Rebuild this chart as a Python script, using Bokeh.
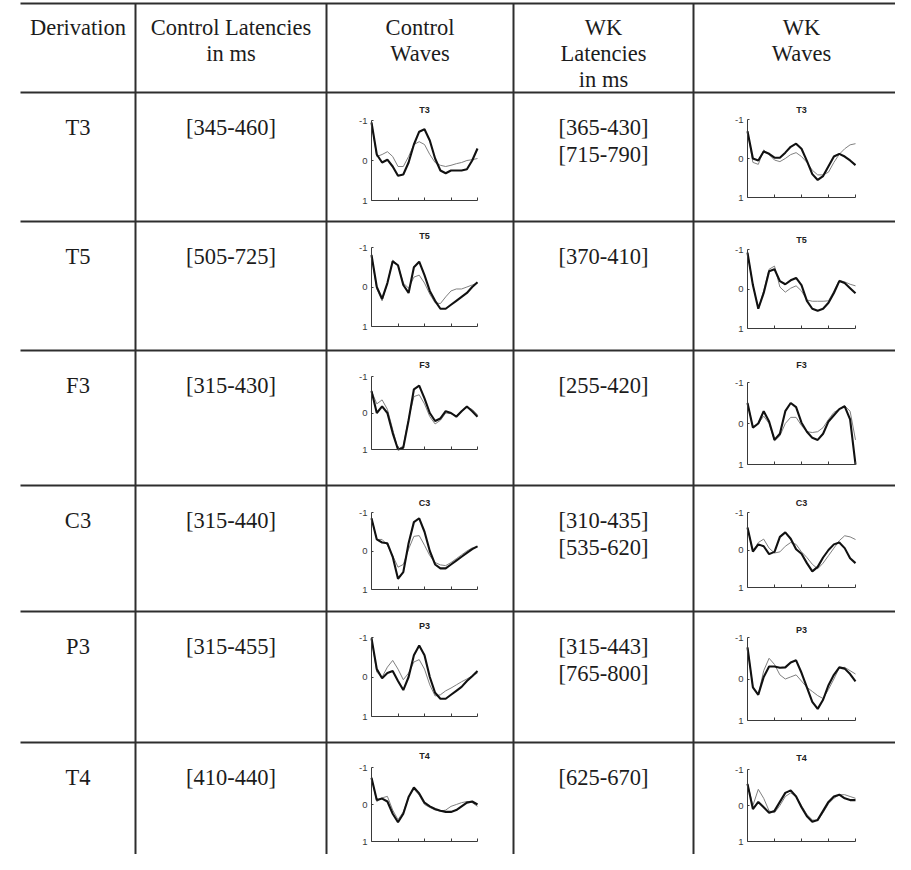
from bokeh.plotting import figure
from bokeh.models import Range1d, FixedTicker, LinearAxis
from bokeh.core.properties import value
from bokeh.embed import file_html
from bokeh.resources import INLINE

# ---------------- data ----------------
header_lines = [["Derivation"], ["Control Latencies", "in ms"], ["Control", "Waves"],
                ["WK", "Latencies", "in ms"], ["WK", "Waves"]]
derivations = ["T3", "T5", "F3", "C3", "P3", "T4"]
control_latencies = ["[345-460]", "[505-725]", "[315-430]", "[315-440]", "[315-455]", "[410-440]"]
wk_latencies = [["[365-430]", "[715-790]"], ["[370-410]"], ["[255-420]"],
                ["[310-435]", "[535-620]"], ["[315-443]", "[765-800]"], ["[625-670]"]]

time_ms = [0, 50, 100, 150, 200, 250, 300, 350, 400, 450, 500, 550, 600, 650, 700, 750, 800, 850, 900, 950, 1000]
x_minor_ticks = [250, 500, 750, 1000]
y_ticks = [-1, 0, 1]
y_tick_labels = {-1: "-1", 0: "0", 1: "1"}

ctl_t3_thick = [-0.95, -0.15, 0.05, -0.02, 0.15, 0.38, 0.35, 0.05, -0.4, -0.72, -0.78, -0.5, -0.05, 0.25, 0.32, 0.25, 0.25, 0.25, 0.22, 0.0, -0.3]
ctl_t3_thin = [-0.95, -0.1, -0.15, -0.22, -0.1, 0.15, 0.15, -0.1, -0.4, -0.47, -0.4, -0.15, 0.05, 0.12, 0.15, 0.12, 0.08, 0.05, 0.0, -0.02, -0.05]
wk_t3_thick = [-0.7, 0.0, 0.05, -0.18, -0.12, -0.02, -0.02, -0.15, -0.3, -0.38, -0.25, 0.06, 0.4, 0.55, 0.45, 0.2, -0.05, -0.12, -0.05, 0.05, 0.17]
wk_t3_thin = [-0.7, 0.1, 0.15, -0.22, -0.1, 0.04, 0.08, 0.0, -0.1, -0.15, -0.05, 0.1, 0.3, 0.42, 0.42, 0.35, 0.1, -0.11, -0.25, -0.35, -0.38]

ctl_t5_thick = [-0.81, 0.0, 0.3, -0.1, -0.65, -0.55, -0.05, 0.15, -0.5, -0.64, -0.3, 0.1, 0.35, 0.55, 0.55, 0.45, 0.35, 0.25, 0.15, 0.0, -0.12]
ctl_t5_thin = [-0.81, 0.05, 0.35, -0.1, -0.68, -0.55, -0.1, 0.03, -0.25, -0.3, -0.1, 0.18, 0.4, 0.42, 0.25, 0.1, 0.05, 0.05, 0.0, -0.05, -0.1]
wk_t5_thick = [-0.92, -0.1, 0.5, 0.1, -0.45, -0.5, -0.2, -0.12, -0.22, -0.28, -0.1, 0.3, 0.5, 0.55, 0.5, 0.35, 0.1, -0.2, -0.15, -0.02, 0.11]
wk_t5_thin = [-0.92, -0.1, 0.5, 0.05, -0.5, -0.58, -0.05, 0.08, -0.02, -0.08, 0.05, 0.28, 0.31, 0.31, 0.31, 0.3, 0.05, -0.22, -0.18, -0.12, -0.08]

ctl_f3_thick = [-0.6, 0.0, -0.18, 0.0, 0.55, 1.0, 0.95, 0.2, -0.65, -0.75, -0.4, 0.0, 0.22, 0.15, -0.05, 0.0, 0.1, -0.05, -0.18, -0.05, 0.1]
ctl_f3_thin = [-0.6, -0.25, -0.36, -0.1, 0.45, 1.0, 0.9, 0.15, -0.45, -0.5, -0.25, 0.1, 0.3, 0.2, 0.0, 0.02, 0.08, -0.05, -0.15, -0.1, 0.05]
wk_f3_thick = [-0.5, 0.1, 0.0, -0.3, -0.05, 0.4, 0.25, -0.3, -0.5, -0.4, -0.02, 0.2, 0.35, 0.4, 0.25, -0.05, -0.2, -0.35, -0.42, -0.1, 1.0]
wk_f3_thin = [-0.5, 0.1, 0.0, -0.18, 0.0, 0.42, 0.3, 0.0, -0.15, -0.15, 0.05, 0.2, 0.22, 0.2, 0.1, -0.1, -0.27, -0.35, -0.43, -0.3, 0.4]

ctl_c3_thick = [-0.85, -0.3, -0.22, -0.2, 0.15, 0.72, 0.55, -0.2, -0.75, -0.85, -0.5, 0.0, 0.35, 0.45, 0.45, 0.35, 0.25, 0.15, 0.05, -0.05, -0.12]
ctl_c3_thin = [-0.85, -0.3, -0.3, -0.15, 0.12, 0.42, 0.35, -0.05, -0.38, -0.4, -0.15, 0.12, 0.3, 0.36, 0.38, 0.3, 0.2, 0.1, 0.0, -0.08, -0.12]
wk_c3_thick = [-0.6, 0.04, -0.15, -0.1, 0.11, 0.05, -0.35, -0.47, -0.3, -0.02, 0.1, 0.35, 0.57, 0.45, 0.2, 0.0, -0.15, -0.2, -0.05, 0.22, 0.35]
wk_c3_thin = [-0.6, 0.04, -0.2, -0.29, -0.05, 0.08, 0.05, -0.1, -0.2, -0.15, 0.05, 0.2, 0.38, 0.5, 0.35, 0.15, -0.05, -0.25, -0.38, -0.35, -0.28]

ctl_p3_thick = [-0.98, -0.2, 0.03, -0.1, -0.15, 0.1, 0.33, 0.0, -0.55, -0.8, -0.55, 0.0, 0.4, 0.55, 0.55, 0.45, 0.35, 0.25, 0.1, -0.02, -0.15]
ctl_p3_thin = [-0.98, -0.12, 0.0, -0.25, -0.42, -0.2, 0.07, -0.1, -0.38, -0.44, -0.2, 0.2, 0.48, 0.45, 0.35, 0.28, 0.2, 0.12, 0.05, -0.03, -0.1]
wk_p3_thick = [-0.76, 0.2, 0.38, -0.05, -0.3, -0.3, -0.27, -0.28, -0.4, -0.45, -0.15, 0.2, 0.55, 0.72, 0.5, 0.15, -0.1, -0.28, -0.25, -0.12, 0.06]
wk_p3_thin = [-0.76, 0.2, 0.38, -0.2, -0.5, -0.35, -0.1, 0.0, -0.05, -0.1, 0.05, 0.2, 0.3, 0.4, 0.47, 0.25, 0.0, -0.27, -0.28, -0.2, -0.12]

ctl_t4_thick = [-0.72, -0.12, -0.16, -0.08, 0.25, 0.48, 0.25, -0.2, -0.46, -0.3, -0.05, 0.05, 0.12, 0.17, 0.2, 0.2, 0.15, 0.05, -0.05, -0.08, 0.0]
ctl_t4_thin = [-0.72, -0.08, -0.18, -0.22, 0.15, 0.41, 0.2, -0.2, -0.42, -0.25, 0.0, 0.08, 0.15, 0.18, 0.15, 0.05, 0.0, -0.05, -0.08, -0.05, 0.05]
wk_t4_thick = [-0.6, 0.1, -0.1, 0.05, 0.2, 0.15, -0.1, -0.35, -0.42, -0.25, 0.05, 0.3, 0.45, 0.4, 0.15, -0.1, -0.25, -0.3, -0.2, -0.15, -0.15]
wk_t4_thin = [-0.6, 0.0, -0.45, -0.2, 0.15, 0.2, 0.0, -0.25, -0.35, -0.25, 0.0, 0.25, 0.4, 0.42, 0.2, -0.05, -0.2, -0.3, -0.3, -0.25, -0.2]

control_waves = [(ctl_t3_thick, ctl_t3_thin), (ctl_t5_thick, ctl_t5_thin), (ctl_f3_thick, ctl_f3_thin),
                 (ctl_c3_thick, ctl_c3_thin), (ctl_p3_thick, ctl_p3_thin), (ctl_t4_thick, ctl_t4_thin)]
wk_waves = [(wk_t3_thick, wk_t3_thin), (wk_t5_thick, wk_t5_thin), (wk_f3_thick, wk_f3_thin),
            (wk_c3_thick, wk_c3_thin), (wk_p3_thick, wk_p3_thin), (wk_t4_thick, wk_t4_thin)]

# ---------------- layout / style (pixel positions inside the figure) ----------------
W, H = 895, 854
TABLE_L, TABLE_R = 20, 895
TOP_Y = 3
HEADER_Y = 92
row_lines = [221, 350, 485, 611, 742]          # rules between data rows
row_tops = [HEADER_Y] + row_lines
vlines = [135, 326, 513, 693]
col_centers = [77.5, 230.5, 419.5, 603, 801]
header_base = [27, 53, 79]
row_base = [35, 62]
LINE = "#2e2e2e"
SERIF = "Liberation Serif"
SANS = "Liberation Sans"
FS = "22.5px"
TXT = "#1c1c1c"

CTL_X = (371, 477)     # y-axis x and right end of the control mini plots
WK_X = (747, 855)      # same for the WK mini plots
# (title, -1, +1) vertical pixel positions of each mini plot (page pixels)
ctl_pos = [(117, 128, 208), (243, 255, 334), (372, 384, 457), (510, 520, 597), (633, 645, 724), (763, 775, 849)]
wk_pos = [(117, 127, 205), (247, 257, 336), (372, 390, 472), (510, 520, 595), (637, 645, 728), (765, 777, 849)]

p = figure(width=W, height=H, x_range=Range1d(0, W), y_range=Range1d(H, 0),
           output_backend="svg", toolbar_location=None, min_border=0,
           x_axis_type=None, y_axis_type=None, outline_line_color=None)
p.background_fill_color = "white"
p.border_fill_color = "white"

# table rules
hl_y = [TOP_Y, HEADER_Y] + row_lines
p.quad(left=[TABLE_L] * len(hl_y), right=[TABLE_R] * len(hl_y),
       top=[y - 1 for y in hl_y], bottom=[y + 1 for y in hl_y], fill_color=LINE, line_color=None)
p.quad(left=[x - 1 for x in vlines], right=[x + 1 for x in vlines],
       top=[TOP_Y] * len(vlines), bottom=[H] * len(vlines), fill_color=LINE, line_color=None)

# texts
tx, ty, tt = [], [], []
for cx, lines in zip(col_centers, header_lines):
    for i, t in enumerate(lines):
        tx.append(cx); ty.append(header_base[i]); tt.append(t)
for i in range(6):
    top = row_tops[i]
    tx.append(col_centers[0]); ty.append(top + row_base[0]); tt.append(derivations[i])
    tx.append(col_centers[1]); ty.append(top + row_base[0]); tt.append(control_latencies[i])
    for j, t in enumerate(wk_latencies[i]):
        tx.append(col_centers[3]); ty.append(top + row_base[j]); tt.append(t)
p.text(x=tx, y=ty, text=tt, text_font=value(SERIF), text_font_size=FS,
       text_align="center", text_baseline="alphabetic", text_color=TXT)


def mini_plot(k, xext, pos, title, thick, thin):
    a, b = xext
    t_y, m1, p1 = pos
    s = 1000.0 / (b - a)
    u = 2.0 / (p1 - m1)
    xn, yn = f"x{k}", f"y{k}"
    p.extra_x_ranges[xn] = Range1d(-a * s, (W - a) * s)
    p.extra_y_ranges[yn] = Range1d(1 + (H - p1) * u, 1 - p1 * u)
    xa = LinearAxis(x_range_name=xn, y_range_name=yn, fixed_location=1, bounds=(0, 1000),
                    ticker=FixedTicker(ticks=[], minor_ticks=x_minor_ticks))
    xa.minor_tick_in = 3
    xa.minor_tick_out = 0
    xa.major_tick_line_color = None
    xa.axis_line_color = "#3a3a3a"
    xa.minor_tick_line_color = "#3a3a3a"
    p.add_layout(xa, "below")
    ya = LinearAxis(x_range_name=xn, y_range_name=yn, fixed_location=0, bounds=(-1, 1),
                    ticker=FixedTicker(ticks=y_ticks), major_label_overrides=y_tick_labels)
    ya.major_tick_in = 2
    ya.major_tick_out = 0
    ya.minor_tick_line_color = None
    ya.axis_line_color = "#3a3a3a"
    ya.major_tick_line_color = "#3a3a3a"
    ya.major_label_text_font = SANS
    ya.major_label_text_font_size = "9.5px"
    ya.major_label_text_color = "#3a3a3a"
    ya.major_label_standoff = 4
    p.add_layout(ya, "left")
    p.line(time_ms, thin, x_range_name=xn, y_range_name=yn, line_color="#808080", line_width=1)
    p.line(time_ms, thick, x_range_name=xn, y_range_name=yn, line_color="#111111", line_width=2.1)
    p.text(x=[(a + b) / 2], y=[t_y], text=[title], text_font=value(SANS),
           text_font_style="bold", text_font_size="9px", text_align="center",
           text_baseline="middle", text_color="#222222")


for i in range(6):
    mini_plot(2 * i, CTL_X, [v - 8 for v in ctl_pos[i]], derivations[i],
              control_waves[i][0], control_waves[i][1])
    mini_plot(2 * i + 1, WK_X, [v - 8 for v in wk_pos[i]], derivations[i],
              wk_waves[i][0], wk_waves[i][1])

open("out.html", "w").write(file_html(p, INLINE))
